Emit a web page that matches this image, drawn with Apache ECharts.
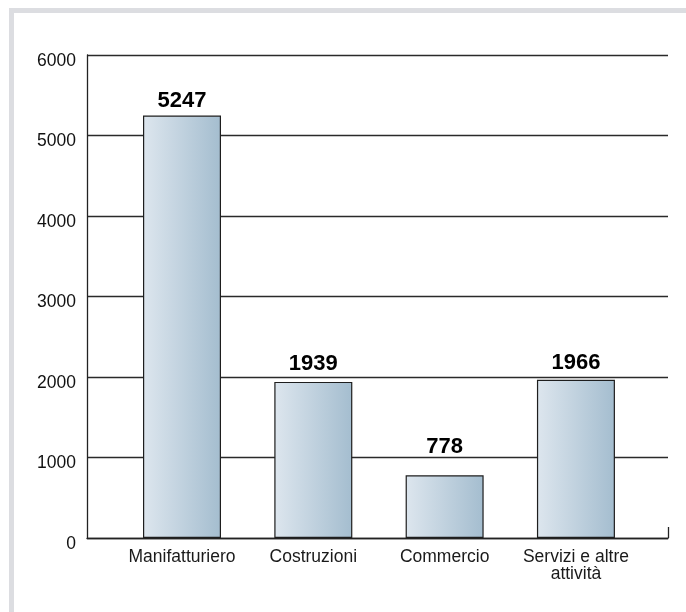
<!DOCTYPE html>
<html>
<head>
<meta charset="utf-8">
<script src="https://cdn.jsdelivr.net/npm/echarts@6/dist/echarts.min.js"></script>
<style>
html,body{margin:0;padding:0;background:#fff;}
#chart{width:686px;height:612px;}
</style>
</head>
<body>
<div id="chart"></div>
<script>
const categories = ['Manifatturiero', 'Costruzioni', 'Commercio', 'Servizi e altre\nattività'];
const values = [5247, 1939, 778, 1966];
const yTicks = [0, 1000, 2000, 3000, 4000, 5000, 6000];

const FONT = '"Liberation Sans", Arial, Helvetica, sans-serif';
const labelGap = [4, 7, 17, 6];

const chart = echarts.init(document.getElementById('chart'), null, {renderer: 'canvas'});
const catIdx = categories.map((c, i) => i);

const option = {
  animation: false,
  backgroundColor: '#ffffff',
  graphic: [
    {type: 'rect', shape: {x: 9, y: 8, width: 677, height: 5}, style: {fill: '#dcdde1'}, silent: true},
    {type: 'rect', shape: {x: 9, y: 8, width: 5, height: 604}, style: {fill: '#dcdde1'}, silent: true}
  ],
  grid: {left: 87, right: 18, top: 55, bottom: 74, containLabel: false},
  xAxis: {
    type: 'value',
    min: -0.7235,
    max: 3.701,
    splitLine: {show: false},
    axisLine: {show: true, onZero: false, lineStyle: {color: '#222', width: 1.3}},
    axisTick: {show: true, inside: true, length: 11, customValues: [3.701], lineStyle: {color: '#222', width: 1.3}},
    axisLabel: {
      show: true,
      customValues: catIdx,
      formatter: v => categories[Math.round(v)],
      margin: 11,
      color: '#1a1a1a',
      fontFamily: FONT,
      fontSize: 17.5,
      lineHeight: 17,
      align: 'center'
    }
  },
  yAxis: {
    type: 'value',
    min: yTicks[0],
    max: yTicks[yTicks.length - 1],
    interval: 1000,
    axisLine: {show: true, onZero: false, lineStyle: {color: '#222', width: 1.3}},
    axisTick: {show: false},
    splitLine: {show: true, lineStyle: {color: '#2a2a2a', width: 1.3}},
    axisLabel: {
      formatter: v => String(v),
      color: '#111',
      fontFamily: FONT,
      fontSize: 17.5,
      margin: 11,
      verticalAlign: 'top',
      lineHeight: 12
    }
  },
  series: [{
    type: 'bar',
    barWidth: 78,
    data: values.map((v, i) => ({
      value: [catIdx[i], v],
      label: {distance: labelGap[i]}
    })),
    itemStyle: {
      color: new echarts.graphic.LinearGradient(0, 0, 1, 0, [
        {offset: 0, color: '#dde6ee'},
        {offset: 1, color: '#a4bdcf'}
      ]),
      borderColor: '#1e1e1e',
      borderWidth: 1.2
    },
    label: {
      show: true,
      position: 'top',
      formatter: p => p.value[1],
      color: '#000',
      fontFamily: FONT,
      fontWeight: 'bold',
      fontSize: 22
    }
  }]
};
chart.setOption(option);
</script>
</body>
</html>
